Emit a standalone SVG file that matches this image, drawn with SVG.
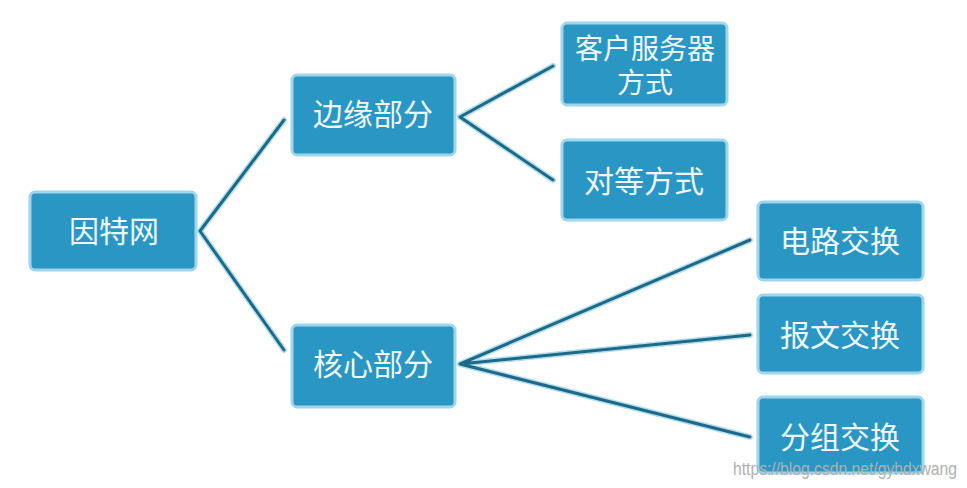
<svg xmlns="http://www.w3.org/2000/svg" width="967" height="488" viewBox="0 0 967 488">
<style>
.box{fill:#2a96c3;stroke:#9fd6ea;stroke-width:3}
.t{font-family:"Noto Sans CJK SC","Liberation Sans",sans-serif;font-size:30px;fill:#eef8fc;text-anchor:middle}
.s{font-size:28px}
.halo{stroke:#b5dfee;stroke-width:6;fill:none;stroke-linecap:round}
.ln{stroke:#1d6a88;stroke-width:3;fill:none;stroke-linecap:round}
.wm{font-family:"Liberation Sans",Arial,sans-serif;font-size:18px;fill:#b0b0b0}
</style>
<rect width="967" height="488" fill="#ffffff"/>
<g id="connectors">
<g class="halo">
<path d="M200 231 L284 120 M200 231 L284 350"/>
<path d="M460 117 L553 66 M460 117 L553 180"/>
<path d="M460 364 L750 240 M460 364 L750 335 M460 364 L750 437"/>
</g>
<g class="ln">
<path d="M200 231 L284 120 M200 231 L284 350"/>
<path d="M460 117 L553 66 M460 117 L553 180"/>
<path d="M460 364 L750 240 M460 364 L750 335 M460 364 L750 437"/>
</g>
</g>
<g id="n_internet"><rect class="box" x="30" y="192" width="166" height="78" rx="5"/><text class="t" x="114" y="242">因特网</text></g>
<g id="n_edge"><rect class="box" x="292" y="75" width="163" height="80" rx="5"/><text class="t" x="373" y="125">边缘部分</text></g>
<g id="n_core"><rect class="box" x="292" y="325" width="163" height="82" rx="5"/><text class="t" x="373" y="375">核心部分</text></g>
<g id="n_cs"><rect class="box" x="562" y="23" width="165" height="82" rx="5"/><text class="t s"><tspan x="645" y="59">客户服务器</tspan><tspan x="645" y="93">方式</tspan></text></g>
<g id="n_p2p"><rect class="box" x="562" y="140" width="165" height="80" rx="5"/><text class="t" x="644" y="192">对等方式</text></g>
<g id="n_circuit"><rect class="box" x="758" y="202" width="165" height="78" rx="5"/><text class="t" x="840" y="252">电路交换</text></g>
<g id="n_message"><rect class="box" x="758" y="295" width="165" height="78" rx="5"/><text class="t" x="840" y="346">报文交换</text></g>
<g id="n_packet"><rect class="box" x="758" y="397" width="165" height="76" rx="5"/><text class="t" x="840" y="448">分组交换</text></g>
<text class="wm" x="733" y="475" textLength="224" lengthAdjust="spacingAndGlyphs">https://blog.csdn.net/gyhdxwang</text>
</svg>
